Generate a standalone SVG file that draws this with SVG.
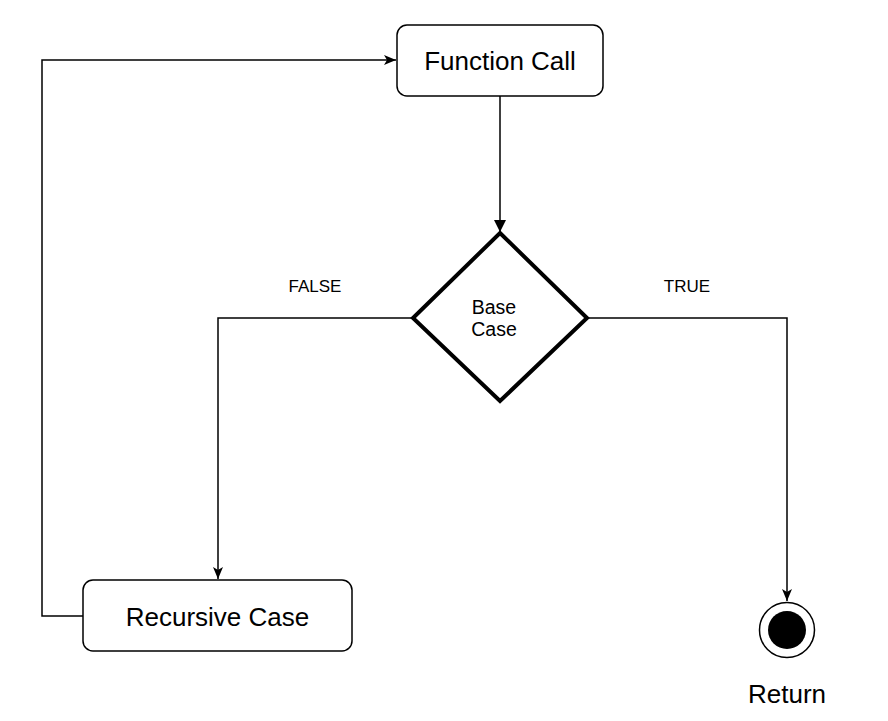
<svg xmlns="http://www.w3.org/2000/svg" width="888" height="721" viewBox="0 0 888 721">
<style>
.box{fill:#fff;stroke:#000;stroke-width:1.5}
.edge{fill:none;stroke:#000;stroke-width:1.5}
.t{font-family:"Liberation Sans",Arial,sans-serif;fill:#000;text-anchor:middle}
</style>
<defs>
<marker id="stealth" viewBox="0 0 12 12" refX="12" refY="6" markerWidth="12" markerHeight="12" markerUnits="userSpaceOnUse" orient="auto">
<path d="M0,1 L12,6 L0,11 L3,6 Z" fill="#000"/>
</marker>
<marker id="tri" viewBox="0 0 12 14" refX="12" refY="7" markerWidth="14" markerHeight="14" markerUnits="userSpaceOnUse" orient="auto">
<path d="M0,1 L12,7 L0,13 Z" fill="#000"/>
</marker>
</defs>
<g id="edges">
<path class="edge" d="M500,96 L500,232" marker-end="url(#tri)"/>
<path class="edge" d="M413,318 L218,318 L218,579" marker-end="url(#stealth)"/>
<path class="edge" d="M587,318 L787,318 L787,601" marker-end="url(#stealth)"/>
<path class="edge" d="M83,616 L42,616 L42,60 L396,60" marker-end="url(#stealth)"/>
<text class="t" x="315" y="292" font-size="17">FALSE</text>
<text class="t" x="687" y="292" font-size="17">TRUE</text>
</g>
<g id="function-call">
<rect class="box" x="397" y="25" width="206" height="71" rx="10"/>
<text class="t" x="500" y="70" font-size="26">Function Call</text>
</g>
<g id="base-case">
<polygon points="500,233 587,318 500,401 413,318" fill="#fff" stroke="#000" stroke-width="4"/>
<text class="t" x="494" y="314" font-size="19.5">Base</text>
<text class="t" x="494" y="336" font-size="19.5">Case</text>
</g>
<g id="recursive-case">
<rect class="box" x="83" y="580" width="269" height="71" rx="10"/>
<text class="t" x="217.5" y="626" font-size="26">Recursive Case</text>
</g>
<g id="return">
<circle cx="787" cy="630" r="27.5" fill="#fff" stroke="#000" stroke-width="1.5"/>
<circle cx="787" cy="630" r="19" fill="#000"/>
<text class="t" x="787" y="703" font-size="26">Return</text>
</g>
</svg>
